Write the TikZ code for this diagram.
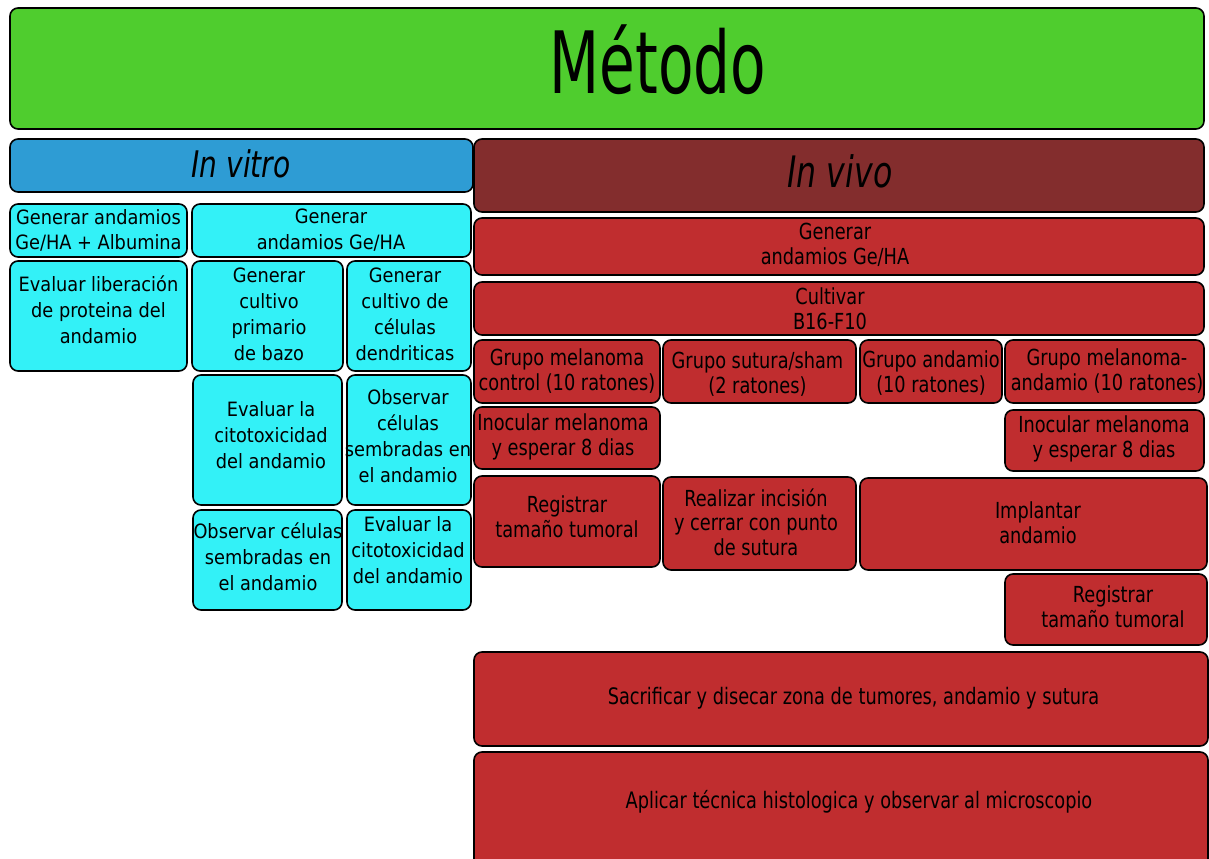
\documentclass[tikz,border=0pt]{standalone}
\usepackage{fontspec}
\setmainfont{DejaVu Sans Condensed}
\usetikzlibrary{fit}
\definecolor{cgreen}{RGB}{79,205,46}
\definecolor{cblue}{RGB}{46,156,212}
\definecolor{ccyan}{RGB}{51,241,247}
\definecolor{cred}{RGB}{192,45,47}
\definecolor{cdred}{RGB}{131,45,45}
\tikzset{
  box/.style={draw=black, line width=1.2pt, rounded corners=6pt, inner sep=0pt},
  txt/.style={align=center, anchor=base, inner sep=0pt, font=\fontsize{14.8}{19.5}\selectfont},
  vtxt/.style={anchor=base, inner sep=0pt, font=\fontsize{14.8}{16.1}\selectfont},
}
\newcommand\bx[6]{\node[box, fill=#6, fit={(#2,#3) (#4,#5)}] (#1) {};}
\newcommand\vt[2][1.12]{\scalebox{1}[#1]{\renewcommand\arraystretch{1}\begin{tabular}[b]{@{}c@{}}#2\end{tabular}}}
\begin{document}
\begin{tikzpicture}[x=0.75pt,y=-0.75pt]
\clip (0,0) rectangle (1209,859);
\fill[white] (0,0) rectangle (1209,859);
% headers
\bx{metodo}{10}{8}{1204}{129}{cgreen}
\node[anchor=base, inner sep=0pt, font=\fontsize{64.5}{70}\selectfont] (tmetodo) at (658,94) {\scalebox{0.75}[1]{Método}};
\bx{vitro}{10}{139}{473}{192}{cblue}
\node[anchor=base, inner sep=0pt, font=\fontsize{27.5}{30}\selectfont\itshape] (tvitro) at (241,178) {\scalebox{0.85}[1]{In vitro}};
\bx{vivo}{474}{139}{1204}{212}{cdred}
\node[anchor=base, inner sep=0pt, font=\fontsize{32.5}{36}\selectfont\itshape] (tvivo) at (840,188) {\scalebox{0.81}[1]{In vivo}};
% in vitro
\bx{alb}{10}{204}{187}{257}{ccyan}
\node[txt] (talb) at (98.5,250) {Generar andamios\\Ge/HA + Albumina};
\bx{gv}{192}{204}{471}{257}{ccyan}
\node[txt] (tgv) at (331,249) {Generar\\andamios Ge/HA};
\bx{lib}{10}{261}{187}{371}{ccyan}
\node[txt] (tlib) at (98.5,343) {Evaluar liberación\\de proteina del\\andamio};
\bx{bazo}{192}{261}{343}{371}{ccyan}
\node[txt] (tbazo) at (269,360) {Generar\\cultivo\\primario\\de bazo};
\bx{dend}{347}{261}{471}{371}{ccyan}
\node[txt] (tdend) at (405,360) {Generar\\cultivo de\\células\\dendriticas};
\bx{cit1}{193}{375}{342}{505}{ccyan}
\node[txt] (tcit1) at (271,468) {Evaluar la\\citotoxicidad\\del andamio};
\bx{obs1}{347}{375}{471}{505}{ccyan}
\node[txt] (tobs1) at (408,482) {Observar\\células\\sembradas en\\el andamio};
\bx{obs2}{193}{510}{342}{610}{ccyan}
\node[txt] (tobs2) at (268,590) {Observar células\\sembradas en\\el andamio};
\bx{cit2}{347}{510}{471}{610}{ccyan}
\node[txt] (tcit2) at (408,583) {Evaluar la\\citotoxicidad\\del andamio};
% in vivo
\bx{gvv}{474}{218}{1204}{275}{cred}
\node[vtxt] (tgvv) at (835,264) {\vt{Generar\\andamios Ge/HA}};
\bx{cult}{474}{282}{1204}{335}{cred}
\node[vtxt] (tcult) at (830,329) {\vt{Cultivar\\B16-F10}};
\bx{gmc}{474}{340}{660}{403}{cred}
\node[vtxt] (tgmc) at (567,390) {\vt{Grupo melanoma\\control (10 ratones)}};
\bx{gss}{663}{340}{856}{403}{cred}
\node[vtxt] (tgss) at (757.5,393) {\vt{Grupo sutura/sham\\(2 ratones)}};
\bx{ga}{860}{340}{1002}{403}{cred}
\node[vtxt] (tga) at (931,392) {\vt{Grupo andamio\\(10 ratones)}};
\bx{gma}{1005}{340}{1204}{403}{cred}
\node[vtxt] (tgma) at (1107,390) {\vt{Grupo melanoma-\\andamio (10 ratones)}};
\bx{inl}{474}{407}{660}{469}{cred}
\node[vtxt] (tinl) at (563,455) {\vt{Inocular melanoma\\y esperar 8 dias}};
\bx{inr}{1005}{410}{1204}{471}{cred}
\node[vtxt] (tinr) at (1104,457) {\vt{Inocular melanoma\\y esperar 8 dias}};
\bx{regl}{474}{476}{660}{567}{cred}
\node[vtxt] (tregl) at (567,537) {\vt{Registrar\\tamaño tumoral}};
\bx{real}{663}{477}{856}{570}{cred}
\node[vtxt] (treal) at (756,555) {\vt{Realizar incisión\\y cerrar con punto\\de sutura}};
\bx{impl}{860}{478}{1207}{570}{cred}
\node[vtxt] (timpl) at (1038,543) {\vt{Implantar\\andamio}};
\bx{regr}{1005}{574}{1207}{645}{cred}
\node[vtxt] (tregr) at (1113,627) {\vt{Registrar\\tamaño tumoral}};
\bx{sac}{474}{652}{1208}{746}{cred}
\node[vtxt] (tsac) at (853.5,704) {\vt[1.15]{Sacrificar y disecar zona de tumores, andamio y sutura}};
\bx{apl}{474}{752}{1208}{880}{cred}
\node[vtxt] (tapl) at (859,808) {\vt[1.15]{Aplicar técnica histologica y observar al microscopio}};
\end{tikzpicture}
\end{document}
